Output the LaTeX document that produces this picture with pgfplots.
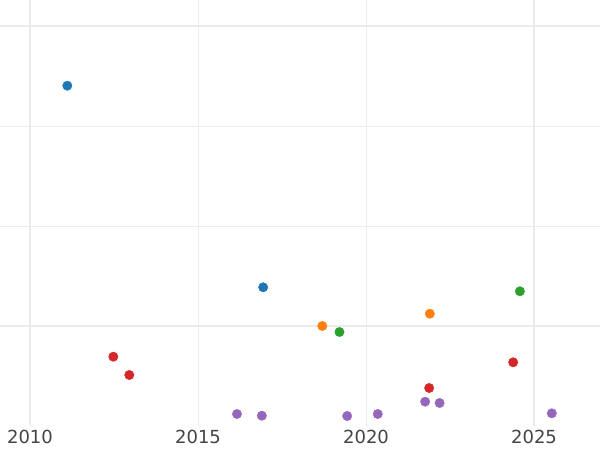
\documentclass[border=0pt]{standalone}
\usepackage{pgfplots}
\pgfplotsset{compat=1.18}
\usepackage{fontspec}
\setmainfont{DejaVu Sans}
\definecolor{c1}{HTML}{1F77B4}
\definecolor{c2}{HTML}{FF7F0E}
\definecolor{c3}{HTML}{2CA02C}
\definecolor{c4}{HTML}{D62728}
\definecolor{c5}{HTML}{9467BD}
\definecolor{gridc}{HTML}{EBEBEB}
\definecolor{txt}{HTML}{444444}
\begin{document}
\begin{tikzpicture}
\useasboundingbox (0,0) rectangle (600bp,450bp);
\begin{axis}[
  at={(0,23.5bp)}, anchor=south west,
  width=600bp, height=426.5bp, scale only axis,
  xmin=2009.107, xmax=2026.964, ymin=0, ymax=4.265,
  axis line style={draw=none},
  major tick length=0pt,
  xtick={2010,2015,2020,2025},
  ytick={2,3}, yticklabels={},
  extra x ticks={2010,2025}, extra x tick labels={},
  extra y ticks={1,4}, extra y tick labels={},
  extra tick style={major grid style={gridc, line width=2bp}},
  grid=major,
  major grid style={gridc, line width=1bp},
  /pgf/number format/assume math mode=true,
  /pgf/number format/1000 sep={},
  xticklabel style={font=\fontsize{18bp}{22bp}\selectfont, text=txt},
  clip=false,
  every axis plot/.append style={only marks, mark=*, mark size=4.7bp, mark options={draw=none}},
]
\addplot[c1, mark options={fill=c1}] coordinates {(2011.11,3.408) (2016.94,1.392)};
\addplot[c4, mark options={fill=c4}] coordinates {(2012.48,0.698) (2012.955,0.515) (2021.88,0.385) (2024.38,0.642)};
\addplot[c2, mark options={fill=c2}] coordinates {(2018.70,1.005) (2021.90,1.128)};
\addplot[c3, mark options={fill=c3}] coordinates {(2019.21,0.945) (2024.58,1.352)};
\addplot[c5, mark options={fill=c5}] coordinates {(2016.16,0.125) (2016.90,0.108) (2019.44,0.105) (2020.35,0.125) (2021.76,0.248) (2022.19,0.235) (2025.53,0.132)};
\end{axis}
\end{tikzpicture}
\end{document}
